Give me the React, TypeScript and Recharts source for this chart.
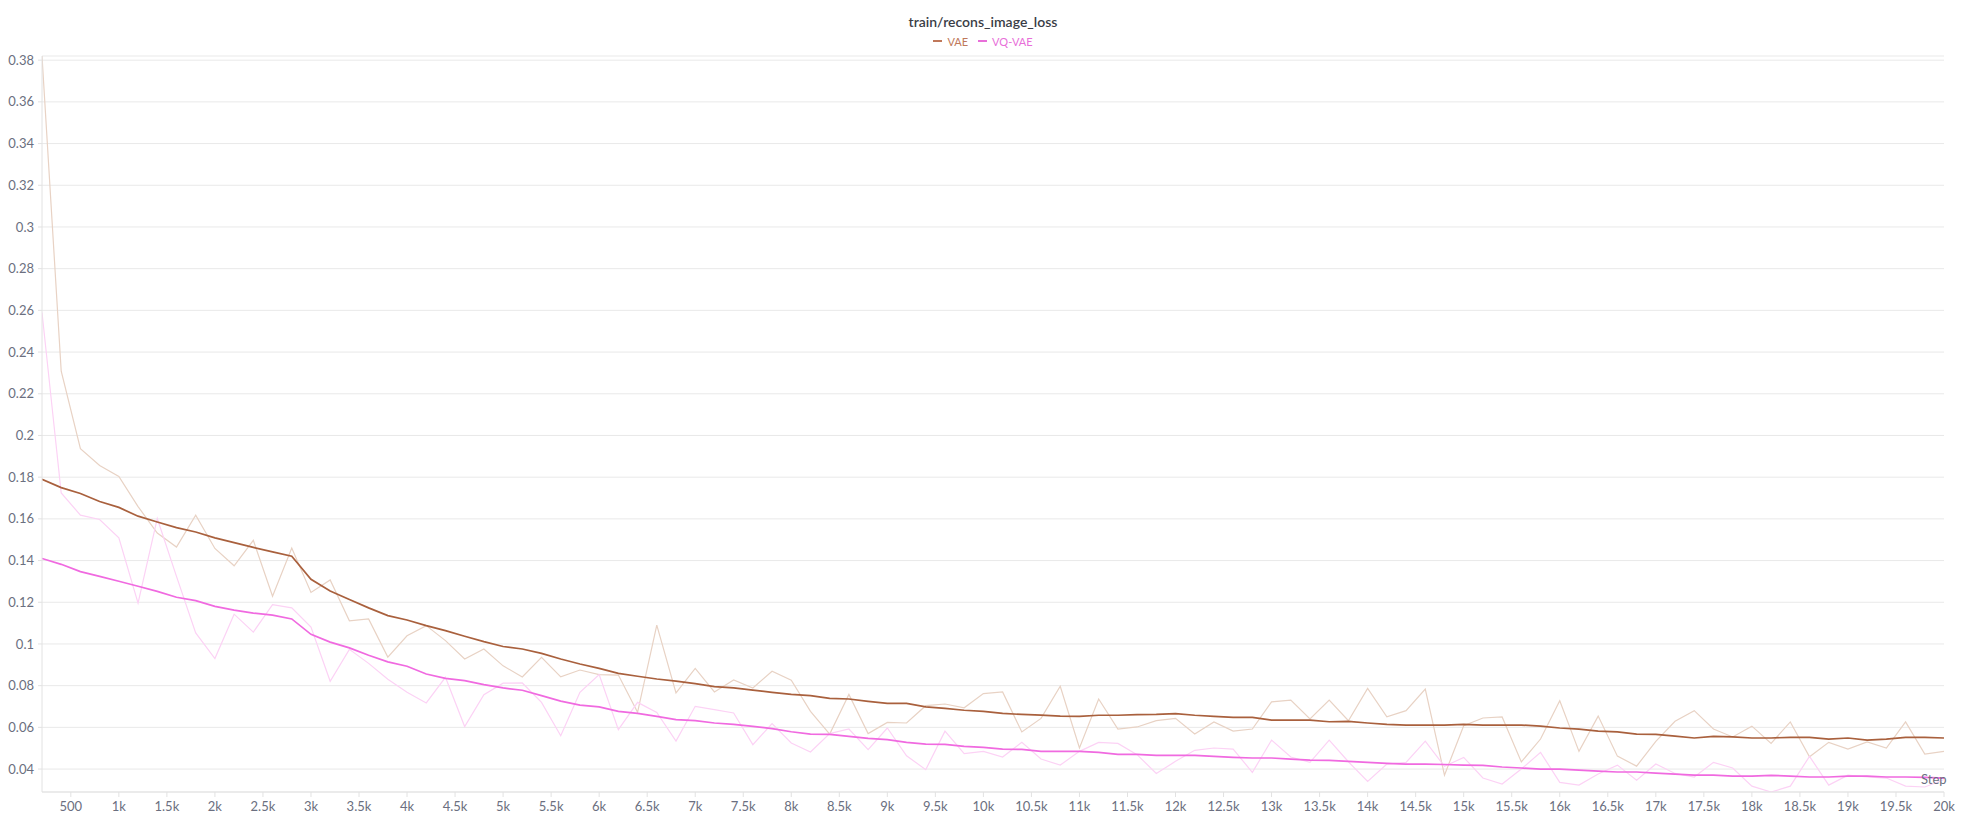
import { LineChart, Line, XAxis, YAxis, CartesianGrid } from 'recharts';

const steps = [
  200, 400, 600, 800, 1000, 1200, 1400, 1600, 1800, 2000, 2200, 2400, 2600, 2800, 3000, 3200, 3400, 3600, 3800, 4000,
  4200, 4400, 4600, 4800, 5000, 5200, 5400, 5600, 5800, 6000, 6200, 6400, 6600, 6800, 7000, 7200, 7400, 7600, 7800, 8000,
  8200, 8400, 8600, 8800, 9000, 9200, 9400, 9600, 9800, 10000, 10200, 10400, 10600, 10800, 11000, 11200, 11400, 11600, 11800, 12000,
  12200, 12400, 12600, 12800, 13000, 13200, 13400, 13600, 13800, 14000, 14200, 14400, 14600, 14800, 15000, 15200, 15400, 15600, 15800, 16000,
  16200, 16400, 16600, 16800, 17000, 17200, 17400, 17600, 17800, 18000, 18200, 18400, 18600, 18800, 19000, 19200, 19400, 19600, 19800, 20000,
];

// raw values (faint lines)
const vaeRaw = [
  0.382, 0.2308, 0.1937, 0.1856, 0.1803, 0.1659, 0.1532, 0.1465, 0.1618, 0.1458, 0.1375, 0.1497, 0.1229, 0.146, 0.1247,
  0.1307, 0.1111, 0.112, 0.0937, 0.1039, 0.1088, 0.1016, 0.0928, 0.0976, 0.0895,
  0.0842, 0.0936, 0.0842, 0.0875, 0.0853, 0.0851, 0.0672, 0.109, 0.0765, 0.0883, 0.077, 0.0827, 0.0789, 0.0869, 0.0826,
  0.0677, 0.0568, 0.0758, 0.057, 0.0624, 0.0621, 0.0704, 0.0712, 0.0694, 0.0762,
  0.077, 0.0578, 0.0643, 0.0797, 0.0501, 0.0736, 0.0592, 0.0602, 0.0632, 0.0643, 0.0568, 0.0626, 0.0582, 0.0592, 0.0722,
  0.0731, 0.064, 0.0731, 0.0632, 0.0787, 0.0651, 0.068, 0.0784, 0.0371, 0.0608,
  0.0645, 0.065, 0.0434, 0.0544, 0.0728, 0.0485, 0.0654, 0.0462, 0.0414, 0.0533, 0.0629, 0.068, 0.0592, 0.0554, 0.0606,
  0.0523, 0.0626, 0.0459, 0.0528, 0.0496, 0.053, 0.0501, 0.0626, 0.0472, 0.0485,
];
const vqRaw = [
  0.259, 0.1724, 0.1618, 0.1597, 0.1509, 0.1196, 0.1602, 0.1324, 0.1053, 0.093, 0.1143, 0.1057, 0.1189, 0.1173, 0.1081,
  0.0821, 0.0974, 0.0907, 0.0831, 0.0768, 0.0717, 0.084, 0.0604, 0.0757, 0.0812,
  0.0813, 0.072, 0.056, 0.0768, 0.0853, 0.0589, 0.072, 0.0672, 0.0534, 0.0701, 0.0685, 0.0669, 0.0517, 0.0618, 0.0525,
  0.0482, 0.057, 0.0592, 0.0493, 0.0597, 0.0464, 0.0397, 0.0582, 0.0474, 0.0485,
  0.0458, 0.0528, 0.0448, 0.0419, 0.0485, 0.0528, 0.0523, 0.0469, 0.0379, 0.0437, 0.049, 0.0501, 0.0496, 0.0384, 0.0539,
  0.0458, 0.0432, 0.0539, 0.0435, 0.0341, 0.0424, 0.0432, 0.0534, 0.0413, 0.0456,
  0.0357, 0.0328, 0.04, 0.048, 0.0336, 0.0323, 0.0376, 0.0419, 0.0346, 0.0424, 0.0379, 0.0362, 0.0432, 0.0405, 0.0318,
  0.029, 0.0318, 0.0461, 0.0323, 0.0371, 0.0362, 0.0357, 0.0318, 0.0314, 0.0349,
];

// smoothed values (solid lines)
const vaeSmooth = [
  0.179, 0.175, 0.1722, 0.1683, 0.1655, 0.1613, 0.1585, 0.1558, 0.1537, 0.1509, 0.1486, 0.1463, 0.1442, 0.1421, 0.131,
  0.1254, 0.1213, 0.1173, 0.1136, 0.1115, 0.1088, 0.1064, 0.1037, 0.1011, 0.0988,
  0.0976, 0.0955, 0.0928, 0.0904, 0.0883, 0.0859, 0.0845, 0.0832, 0.0822, 0.081, 0.0795, 0.0789, 0.0779, 0.0768, 0.0758,
  0.0752, 0.0739, 0.0736, 0.0725, 0.0715, 0.0715, 0.0698, 0.0691, 0.0682, 0.0677,
  0.0667, 0.0662, 0.0659, 0.0654, 0.0653, 0.0658, 0.0658, 0.0661, 0.0662, 0.0666, 0.0658, 0.0653, 0.0648, 0.0648, 0.0635,
  0.0635, 0.0635, 0.0627, 0.0629, 0.0621, 0.0614, 0.0611, 0.0611, 0.0611, 0.0614,
  0.0611, 0.0611, 0.0611, 0.0606, 0.0597, 0.0592, 0.0582, 0.0578, 0.0568, 0.0566, 0.0558, 0.0549, 0.0557, 0.0554, 0.0549,
  0.0549, 0.0552, 0.0552, 0.0544, 0.0549, 0.0539, 0.0544, 0.0552, 0.0552, 0.0549,
];
const vqSmooth = [
  0.141, 0.1382, 0.1347, 0.1324, 0.1301, 0.1277, 0.1252, 0.1224, 0.1208, 0.118, 0.1162, 0.1148, 0.1138, 0.112, 0.1046,
  0.1009, 0.0981, 0.0946, 0.0914, 0.0893, 0.0856, 0.0835, 0.0824, 0.0805, 0.0789,
  0.0778, 0.0752, 0.0726, 0.0707, 0.0698, 0.0677, 0.0667, 0.0653, 0.0637, 0.0632, 0.0621, 0.0614, 0.0605, 0.0594, 0.0579,
  0.0568, 0.0566, 0.0557, 0.0547, 0.0541, 0.0528, 0.052, 0.0518, 0.0509, 0.0504,
  0.0496, 0.0494, 0.0485, 0.0485, 0.0485, 0.048, 0.047, 0.047, 0.0466, 0.0466, 0.0466, 0.0461, 0.0456, 0.0453, 0.0453,
  0.0448, 0.0443, 0.0442, 0.0437, 0.0432, 0.0427, 0.0424, 0.0424, 0.0422, 0.0419,
  0.0418, 0.041, 0.0405, 0.04, 0.04, 0.0395, 0.039, 0.0386, 0.0386, 0.0381, 0.0376, 0.0371, 0.0371, 0.0366, 0.0366,
  0.037, 0.0366, 0.0362, 0.0362, 0.0366, 0.0366, 0.0362, 0.0362, 0.036, 0.0357,
];

const xTicks = [
  500, 1000, 1500, 2000, 2500, 3000, 3500, 4000, 4500, 5000, 5500, 6000, 6500, 7000, 7500, 8000, 8500, 9000, 9500, 10000,
  10500, 11000, 11500, 12000, 12500, 13000, 13500, 14000, 14500, 15000, 15500, 16000, 16500, 17000, 17500, 18000, 18500,
  19000, 19500, 20000,
];
const yTicks = [0.04, 0.06, 0.08, 0.1, 0.12, 0.14, 0.16, 0.18, 0.2, 0.22, 0.24, 0.26, 0.28, 0.3, 0.32, 0.34, 0.36, 0.38];

const data = steps.map((step, i) => ({
  step,
  vaeRaw: vaeRaw[i],
  vqRaw: vqRaw[i],
  vae: vaeSmooth[i],
  vq: vqSmooth[i],
}));

const VAE_COLOR = '#a9603d';
const VAE_FAINT = '#e8d2c4';
const VQ_COLOR = '#f06ae0';
const VQ_FAINT = '#fcd2f5';
const TICK = '#6b6f80';
const AXIS = '#e2e2e2';

const fmtStep = (v: number) => (v >= 1000 ? `${v / 1000}k` : `${v}`);
const fmtLoss = (v: number) => `${Number(v.toFixed(2))}`;

function LegendItem({ color, label }: { color: string; label: string }) {
  return (
    <span style={{ display: 'inline-flex', alignItems: 'center', margin: '0 5px', color }}>
      <span style={{ width: 9, height: 2, background: color, marginRight: 5, display: 'inline-block' }} />
      {label}
    </span>
  );
}

export default function App() {
  return (
    <div
      style={{
        position: 'relative',
        width: 1966,
        height: 826,
        background: '#fff',
        fontFamily: 'Lato, "Noto Sans", sans-serif',
      }}
    >
      <style>{'body { margin: 0; }'}</style>
      <div
        style={{
          position: 'absolute',
          top: 13,
          left: 0,
          width: 1966,
          textAlign: 'center',
          fontSize: 14,
          fontWeight: 600,
          color: '#3a3d46',
          lineHeight: '18px',
        }}
      >
        train/recons_image_loss
      </div>
      <div
        style={{
          position: 'absolute',
          top: 30,
          left: 0,
          width: 1966,
          textAlign: 'center',
          fontSize: 11,
          lineHeight: '15px',
        }}
      >
        <LegendItem color="#c0785a" label="VAE" />
        <LegendItem color="#e86fd9" label="VQ-VAE" />
      </div>
      <LineChart width={1966} height={826} data={data} margin={{ top: 56, right: 22, left: 0, bottom: 0 }}>
        <CartesianGrid vertical={false} stroke="#e9e9e9" />
        <XAxis
          dataKey="step"
          type="number"
          domain={[200, 20000]}
          ticks={xTicks}
          tickFormatter={fmtStep}
          height={34}
          tickSize={5}
          tickMargin={5}
          stroke={AXIS}
          tick={{ fill: TICK, fontSize: 13 }}
          allowDataOverflow
        />
        <YAxis
          type="number"
          domain={[0.029, 0.382]}
          ticks={yTicks}
          tickFormatter={fmtLoss}
          width={42}
          tickSize={4}
          tickMargin={4}
          stroke={AXIS}
          tick={{ fill: TICK, fontSize: 13 }}
          allowDataOverflow
        />
        <Line type="linear" dataKey="vaeRaw" stroke={VAE_FAINT} strokeWidth={1.2} dot={false} isAnimationActive={false} />
        <Line type="linear" dataKey="vqRaw" stroke={VQ_FAINT} strokeWidth={1.2} dot={false} isAnimationActive={false} />
        <Line type="linear" dataKey="vae" stroke={VAE_COLOR} strokeWidth={1.7} dot={false} isAnimationActive={false} />
        <Line type="linear" dataKey="vq" stroke={VQ_COLOR} strokeWidth={1.7} dot={false} isAnimationActive={false} />
      </LineChart>
      <div style={{ position: 'absolute', left: 1921, top: 771, fontSize: 13, color: TICK }}>Step</div>
    </div>
  );
}
